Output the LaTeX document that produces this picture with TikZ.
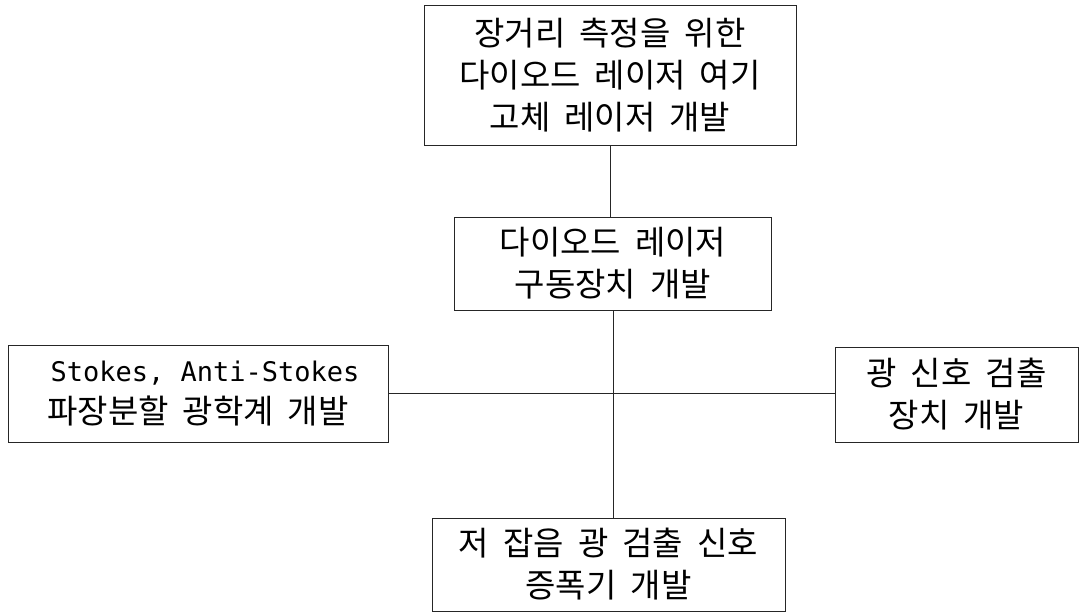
\documentclass[tikz,border=0pt]{standalone}
\usepackage{fontspec}
\setmainfont{Noto Sans CJK KR}[WordSpace=1.9]
\newfontfamily\latinmono{DejaVu Sans Mono}
\begin{document}
\begin{tikzpicture}[x=1pt,y=-1pt,
  box/.style={draw=black!85, line width=0.9pt, rectangle, inner sep=0pt, align=center,
    font=\fontsize{33}{42}\selectfont},
  conn/.style={draw=black!85, line width=0.9pt}]
\useasboundingbox (0,0) rectangle (1081,614);
\node[box, minimum width=372pt, minimum height=140pt] (top) at (610,75)
  {\fontsize{33}{43}\selectfont 장거리 측정을 위한\\다이오드 레이저 여기\\고체 레이저 개발};
\node[box, minimum width=317pt, minimum height=93pt] (mid) at (613,263.5)
  {다이오드 레이저\\구동장치 개발};
\node[box, minimum width=380pt, minimum height=97pt] (left) at (198,393.5)
  {\hspace*{14pt}{\latinmono\fontsize{27}{42}\selectfont Stokes, Anti-Stokes}\\파장분할 광학계 개발};
\node[box, minimum width=243pt, minimum height=95pt] (right) at (956.5,394.5)
  {광 신호 검출\\장치 개발};
\node[box, minimum width=353pt, minimum height=93pt] (bot) at (608.5,564.5)
  {저 잡음 광 검출 신호\\증폭기 개발};
\draw[conn] (top.south) -- (top.south |- mid.north);
\draw[conn] (mid.south) -- (mid.south |- bot.north);
\draw[conn] (left.east) -- (left.east -| right.west);
\end{tikzpicture}
\end{document}
